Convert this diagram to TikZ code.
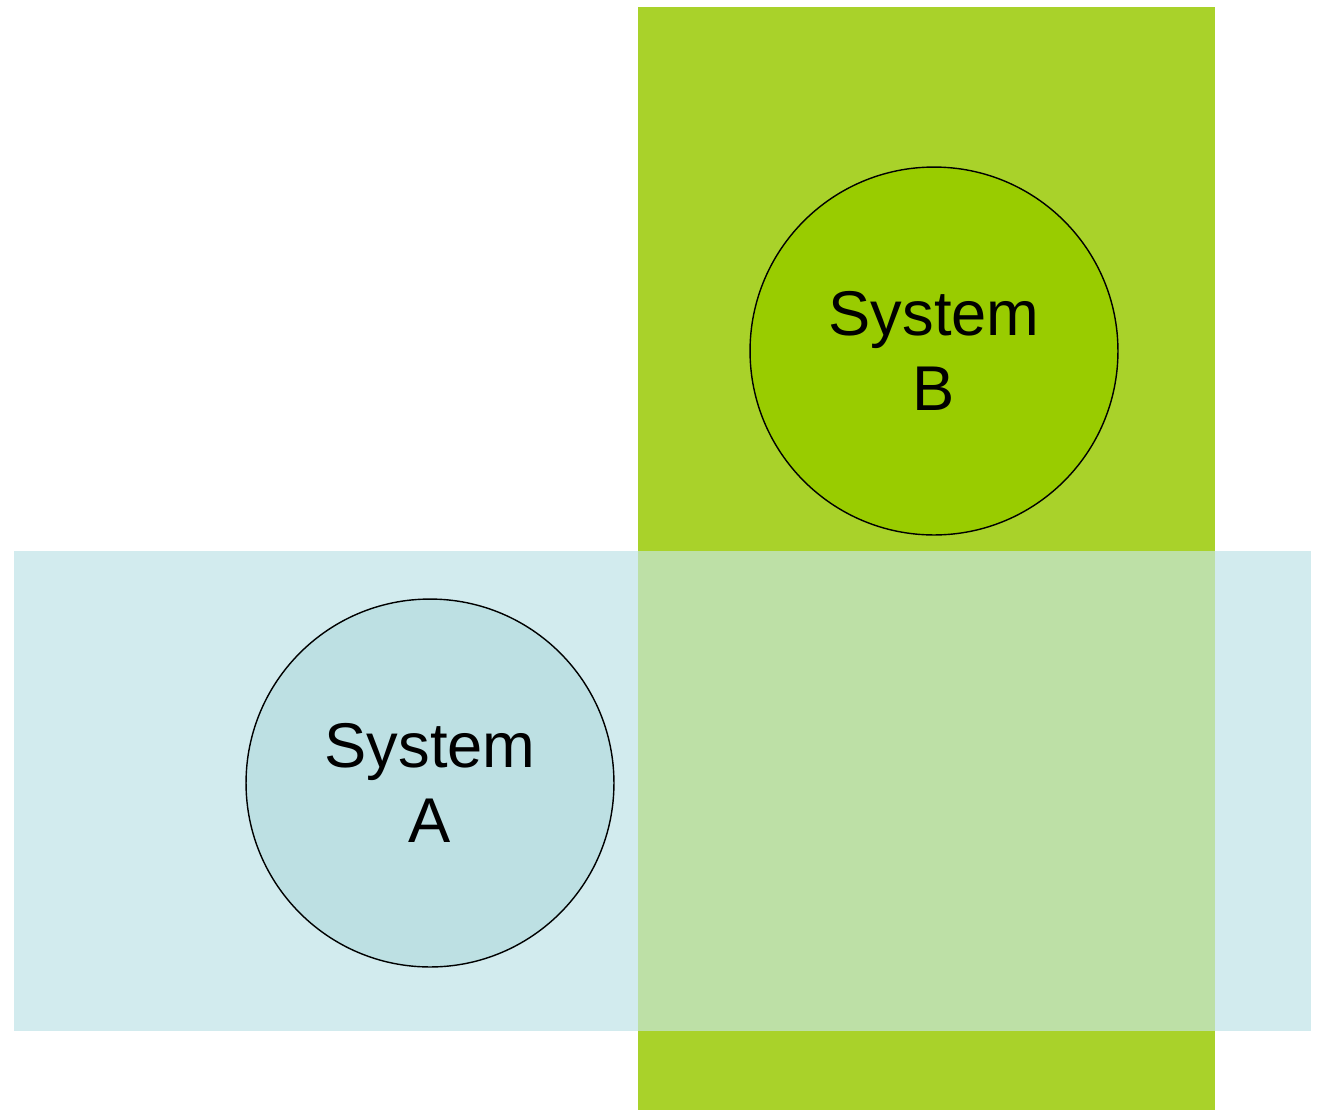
\documentclass[tikz,border=0pt]{standalone}
\usepackage{fontspec}
\setmainfont{Liberation Sans}
\definecolor{greenband}{HTML}{A9D22A}
\definecolor{blueband}{HTML}{D2EBEE}
\definecolor{overlap}{HTML}{BDE0A6}
\definecolor{greencirc}{HTML}{99CC00}
\definecolor{bluecirc}{HTML}{BDE0E3}
\tikzset{
  sysnode/.style={circle, draw=black, line width=0.8pt, minimum size=7.36cm, inner sep=0pt,
    align=center, font=\fontsize{36}{43}\selectfont},
}
\begin{document}
\begin{tikzpicture}[x=0.02cm,y=-0.02cm]
\useasboundingbox (0,0) rectangle (1319,1110);
\fill[greenband] (638,7) rectangle (1215,1110);
\fill[blueband] (14,551) rectangle (1311,1031);
\fill[overlap] (638,551) rectangle (1215,1031);
\node[sysnode, fill=greencirc] (B) at (934,351) {System\\B};
\node[sysnode, fill=bluecirc] (A) at (430,783) {System\\A};
\end{tikzpicture}
\end{document}
